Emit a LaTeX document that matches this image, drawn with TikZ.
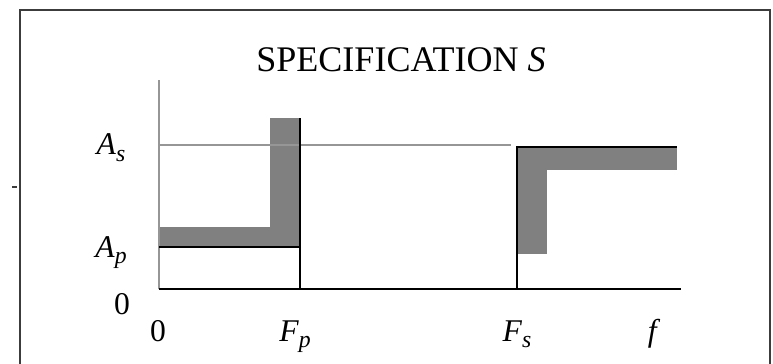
\documentclass[tikz,border=0pt]{standalone}
\usepackage{fontspec}
\setmainfont{Liberation Serif}
\usetikzlibrary{positioning}
\definecolor{bandgray}{RGB}{128,128,128}
\definecolor{axisgray}{RGB}{150,150,150}
\definecolor{framegray}{RGB}{60,60,60}
\newcommand{\sublbl}[2]{\textit{#1}\raisebox{-0.22em}{\fontsize{13.5}{15}\selectfont\textit{#2}}}

\begin{document}
\begin{tikzpicture}[x=0.02cm,y=-0.02cm,
  title/.style={font=\fontsize{20.5}{23}\selectfont,anchor=base,inner sep=0pt},
  lbl/.style={font=\fontsize{18}{21}\selectfont,anchor=base,inner sep=0pt},
  band/.style={fill=bandgray,draw=none},
  edge/.style={draw=black,line width=1.1pt},
  guide/.style={draw=axisgray,line width=0.9pt}]
  \useasboundingbox (0,0) rectangle (773,364);
  % frame
  \draw[framegray,line width=1.4pt] (20,364) -- (20,10) -- (770,10) -- (770,364);
  \draw[framegray,line width=0.8pt] (12,187) -- (17,187);
  % key points
  \coordinate (O)   at (159,289);
  \coordinate (Ytop) at (159,80);
  \coordinate (Xend) at (681,289);
  \coordinate (Fp)  at (300,289);
  \coordinate (Fs)  at (517,289);
  % tolerance bands
  \fill[band] (159,227) rectangle (300,247);
  \fill[band] (270,118) rectangle (300,247);
  \fill[band] (517,147) rectangle (547,254);
  \fill[band] (517,147) rectangle (677,170);
  % axes and levels
  \draw[guide] (O) -- (Ytop);
  \draw[guide] (159,145) -- (511,145);
  \draw[edge] (O) -- (Xend);
  \draw[edge] (159,247) -- (300,247);
  \draw[edge] (Fp) -- (300,118);
  \draw[edge] (Fs) -- (517,147) -- (677,147);
  % labels
  \node[title] (head) at (401,72) {SPECIFICATION \textit{S}};
  \node[lbl] (As) at (111,155) {\sublbl{A}{s}};
  \node[lbl] (Ap) at (111,257) {\sublbl{A}{p}};
  \node[lbl] (zeroA) at (122,314) {0};
  \node[lbl] (zeroF) at (158,341) {0};
  \node[lbl] (lFp) at (295,341) {\sublbl{F}{p}};
  \node[lbl] (lFs) at (517,341) {\sublbl{F}{s}};
  \node[lbl] (lf) at (654,341) {\textit{f}};
\end{tikzpicture}
\end{document}
